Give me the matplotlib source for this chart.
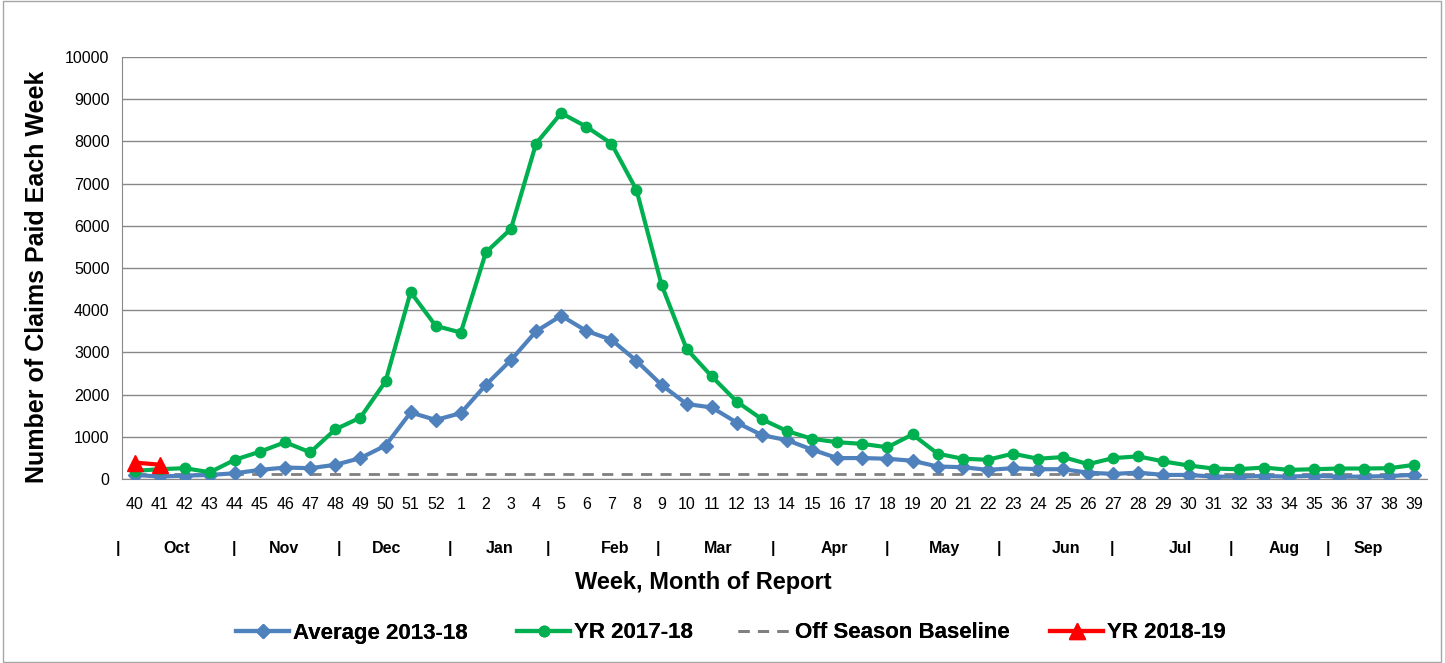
import numpy as np
from matplotlib import pyplot as plt

plt.rcParams['font.family'] = ['Liberation Sans', 'DejaVu Sans']

weeks = ['40', '41', '42', '43', '44', '45', '46', '47', '48', '49', '50', '51', '52',
         '1', '2', '3', '4', '5', '6', '7', '8', '9', '10', '11', '12', '13', '14',
         '15', '16', '17', '18', '19', '20', '21', '22', '23', '24', '25', '26', '27',
         '28', '29', '30', '31', '32', '33', '34', '35', '36', '37', '38', '39']

avg_2013_18 = [96, 60, 80, 96, 136, 216, 272, 256, 336, 496, 792, 1576, 1400,
               1560, 2232, 2820, 3500, 3870, 3510, 3300, 2800, 2230, 1776, 1696, 1336,
               1040, 920, 696, 496, 496, 480, 432, 296, 280, 216, 256, 232, 232, 150,
               120, 152, 96, 96, 56, 56, 72, 56, 80, 56, 56, 72, 96]

yr_2017_18 = [192, 232, 256, 160, 456, 648, 872, 632, 1176, 1456, 2312, 4430, 3630,
              3470, 5370, 5930, 7950, 8670, 8350, 7950, 6850, 4600, 3080, 2430, 1832,
              1416, 1136, 952, 872, 832, 752, 1056, 600, 480, 456, 600, 480, 520, 352,
              496, 536, 416, 320, 248, 232, 272, 216, 232, 248, 248, 256, 336]

baseline = 130
yr_2018_19 = [390, 340]

months = ['Oct', 'Nov', 'Dec', 'Jan', 'Feb', 'Mar', 'Apr', 'May', 'Jun', 'Jul', 'Aug', 'Sep']
month_pos = [1.67, 5.94, 10.05, 14.55, 19.14, 23.25, 27.9, 32.26, 37.12, 41.67, 45.81, 49.16]
bar_pos = [-0.64, 3.95, 8.13, 12.56, 16.47, 20.85, 25.44, 29.98, 34.45, 38.96, 43.7, 47.57]

fig = plt.figure(figsize=(14.45, 6.63), dpi=100)
ax = fig.add_axes([122 / 1445, 1 - 479 / 663, 1305 / 1445, 422 / 663])

x = np.arange(len(weeks))
l1, = ax.plot(x, avg_2013_18, color='#4F81BD', marker='D', markersize=7, lw=3,
              label='Average 2013-18', zorder=3)
l2, = ax.plot(x, yr_2017_18, color='#00B050', marker='o', markersize=7.5, lw=3,
              label='YR 2017-18', zorder=3)
l3, = ax.plot(x, [baseline] * len(x), color='#808080', ls=(0, (4, 3)), lw=2,
              label='Off Season Baseline', zorder=2)
l4, = ax.plot(x[:len(yr_2018_19)], yr_2018_19, color='#FF0000', marker='^', markersize=11,
              lw=3, label='YR 2018-19', zorder=4)

ax.set_xlim(-0.5, len(weeks) - 0.5)
ax.set_ylim(0, 10000)
ax.set_yticks(np.arange(0, 10001, 1000))
ax.set_xticks(x)
ax.set_xticklabels(weeks, fontsize=11.5)
ax.tick_params(axis='y', labelsize=11.5, length=0, pad=9)
ax.tick_params(axis='x', length=0, pad=13)
ax.grid(axis='y', color='#888888', lw=1)
ax.set_axisbelow(True)
for s in ['top', 'right']:
    ax.spines[s].set_visible(False)
ax.spines['left'].set_color('#888888')
ax.spines['bottom'].set_color('#888888')

ax.set_ylabel('Number of Claims Paid Each Week', fontsize=18, fontweight='bold')
ax.yaxis.set_label_coords(-0.056, 0.48)

trans = ax.get_xaxis_transform()
for m, p in zip(months, month_pos):
    ax.text(p, -0.165, m, transform=trans, ha='center', va='center',
            fontsize=11.5, fontweight='bold')
for p in bar_pos:
    ax.text(p, -0.165, '|', transform=trans, ha='center', va='center',
            fontsize=11.5, fontweight='bold')

fig.text(703 / 1445, 1 - 583 / 663, 'Week, Month of Report', ha='center',
         va='center', fontsize=17, fontweight='bold')

# one legend per entry to copy the uneven spacing
for h, px in zip([l1, l2, l3, l4], [236, 517, 738, 1050]):
    leg = fig.legend(handles=[h], loc='center left', bbox_to_anchor=(px / 1445, 1 - 633 / 663),
                     frameon=False, prop={'size': 16, 'weight': 'bold'}, handlelength=2.4,
                     handletextpad=0.15, borderpad=0, borderaxespad=0)
    fig.add_artist(leg)

fig.patches.append(plt.Rectangle((0.002, 0.001), 0.995, 0.998, transform=fig.transFigure,
                                 fill=False, edgecolor='#A6A6A6', lw=1))

fig.savefig('out.png', dpi=100)
